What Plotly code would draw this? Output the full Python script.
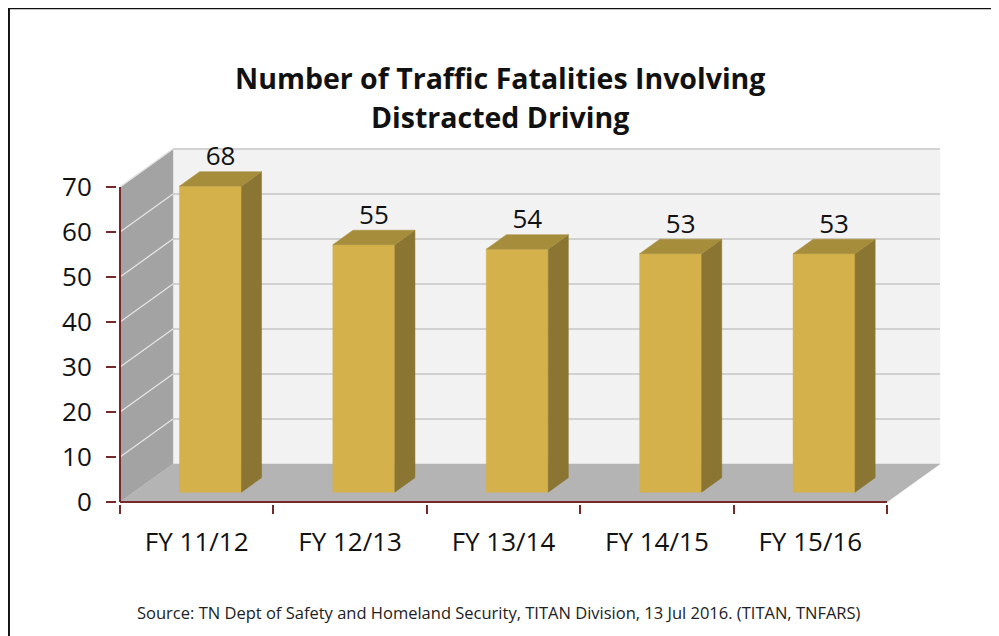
import plotly.graph_objects as go

# ---------------- data ----------------
categories = ["FY 11/12", "FY 12/13", "FY 13/14", "FY 14/15", "FY 15/16"]
values = [68, 55, 54, 53, 53]
y_ticks = [0, 10, 20, 30, 40, 50, 60, 70]
title_lines = ["Number of Traffic Fatalities Involving", "Distracted Driving"]
source_text = "Source: TN Dept of Safety and Homeland Security, TITAN Division, 13 Jul 2016. (TITAN, TNFARS)"

# ---------------- layout / projection params ----------------
OFF = 8                      # default page body margin
W, H = 999 - OFF, 636 - OFF  # figure size so that page fills exactly
ML, MR, MT, MB = 117 - OFF, 54, 140 - OFF, 132
PX_X = 153.4          # pixels per category unit
PX_Y = 4.5            # pixels per value unit
X0_PX, Y0_PX = 120 - OFF, 502 - OFF   # figure-pixel position of (x=-0.5, y=0)
PW, PH = W - ML - MR, H - MT - MB
x_lo = -0.5 - (X0_PX - ML) / PX_X
x_hi = x_lo + PW / PX_X
y_lo = -((H - MB) - Y0_PX) / PX_Y
y_hi = y_lo + PH / PX_Y

DX, DY = 0.345, 8.44      # full depth offset in data units
D0, D1 = 0.26, 0.64       # bar depth span
BAR_W = 0.404
Y_MAX = y_ticks[-1]
N = len(categories)
XL, XR = -0.5, N - 0.5

AX_COL = "#76282A"
FRONT, SIDE, TOP = "#D5B14B", "#8A7632", "#A68D3C"
FONT = "Open Sans"


def px2paper(px, py):
    """page pixel -> paper coords"""
    px, py = px - OFF, py - OFF
    return (px - ML) / PW, ((H - MB) - py) / PH


def P(x, y, d):
    return x + d * DX, y + d * DY


fig = go.Figure()


def poly(pts, color):
    xs = [p[0] for p in pts] + [pts[0][0]]
    ys = [p[1] for p in pts] + [pts[0][1]]
    fig.add_trace(go.Scatter(x=xs, y=ys, mode="lines", fill="toself",
                             fillcolor=color, line=dict(color=color, width=0.5),
                             hoverinfo="skip", showlegend=False))


def seg(p, q, color, width):
    fig.add_trace(go.Scatter(x=[p[0], q[0]], y=[p[1], q[1]], mode="lines",
                             line=dict(color=color, width=width),
                             hoverinfo="skip", showlegend=False))


# back wall
poly([P(XL, 0, 1), P(XR, 0, 1), P(XR, Y_MAX, 1), P(XL, Y_MAX, 1)], "#F2F2F2")
# side wall
poly([P(XL, 0, 0), P(XL, 0, 1), P(XL, Y_MAX, 1), P(XL, Y_MAX, 0)], "#A3A3A3")
# floor
poly([P(XL, 0, 0), P(XR, 0, 0), P(XR, 0, 1), P(XL, 0, 1)], "#B4B4B4")
# gridlines
for t in y_ticks[1:]:
    seg(P(XL, t, 1), P(XR, t, 1), "#C6C6C6", 1.6)
    seg(P(XL, t, 0), P(XL, t, 1), "#E4E4E4", 1.3)

# bars
for i, v in enumerate(values):
    l, r = i - BAR_W / 2, i + BAR_W / 2
    poly([P(l, 0, D0), P(r, 0, D0), P(r, v, D0), P(l, v, D0)], FRONT)
    poly([P(r, 0, D0), P(r, 0, D1), P(r, v, D1), P(r, v, D0)], SIDE)
    poly([P(l, v, D0), P(r, v, D0), P(r, v, D1), P(l, v, D1)], TOP)

# data labels
lx = [i + (D0 + D1) / 2 * DX for i in range(N)]
ly = [v + D1 * DY for v in values]
fig.add_trace(go.Scatter(x=lx, y=ly, mode="text", text=[str(v) for v in values],
                         textposition="top center",
                         textfont=dict(family=FONT, size=26, color="#111111"),
                         hoverinfo="skip", showlegend=False, cliponaxis=False))

# front axis lines
seg((XL, 0), (XR, 0), AX_COL, 2)
seg((XL, 0), (XL, Y_MAX), AX_COL, 2)

# dummy trace for boundary tick axis
fig.add_trace(go.Scatter(x=[XL], y=[0], xaxis="x2", mode="markers",
                         marker=dict(opacity=0), hoverinfo="skip", showlegend=False))

fig.update_layout(
    width=W, height=H,
    margin=dict(l=ML, r=MR, t=MT, b=MB, pad=0),
    paper_bgcolor="white", plot_bgcolor="white",
    showlegend=False,
    xaxis=dict(range=[x_lo, x_hi], tickvals=list(range(N)), ticktext=categories,
               ticks="outside", ticklen=15, tickcolor="rgba(0,0,0,0)",
               showgrid=False, zeroline=False, showline=False,
               tickfont=dict(family=FONT, size=26, color="#111111")),
    xaxis2=dict(range=[x_lo, x_hi], overlaying="x", anchor="y", side="bottom",
                tickvals=[i - 0.5 for i in range(N + 1)], ticks="outside", ticklen=9,
                tickwidth=2, tickcolor=AX_COL, showticklabels=False,
                showgrid=False, zeroline=False, showline=False),
    yaxis=dict(range=[y_lo, y_hi], tickvals=y_ticks, ticks="outside", ticklen=10,
               tickwidth=2, tickcolor=AX_COL, showgrid=False, zeroline=False,
               showline=False, ticklabelstandoff=9,
               tickfont=dict(family=FONT, size=26, color="#111111")),
)

ann = []
for txt, py in zip(title_lines, [78, 117]):
    ax, ay = px2paper(500, py)
    ann.append(dict(text="<b>%s</b>" % txt, x=ax, y=ay, xref="paper", yref="paper",
                    showarrow=False, xanchor="center", yanchor="middle",
                    font=dict(family=FONT, size=28.5, color="#111111")))
ax, ay = px2paper(499, 612)
ann.append(dict(text=source_text, x=ax, y=ay, xref="paper", yref="paper",
                showarrow=False, xanchor="center", yanchor="middle",
                font=dict(family=FONT, size=16.5, color="#222222")))
fig.update_layout(annotations=ann)

fx0, fy0 = px2paper(8.7, 8)
fx1, fy1 = px2paper(1010, 660)
fig.add_shape(type="rect", xref="paper", yref="paper", x0=fx0, y0=fy1, x1=fx1, y1=fy0,
              line=dict(color="#111111", width=2.5), fillcolor="rgba(0,0,0,0)")

fig.write_html("out.html")
